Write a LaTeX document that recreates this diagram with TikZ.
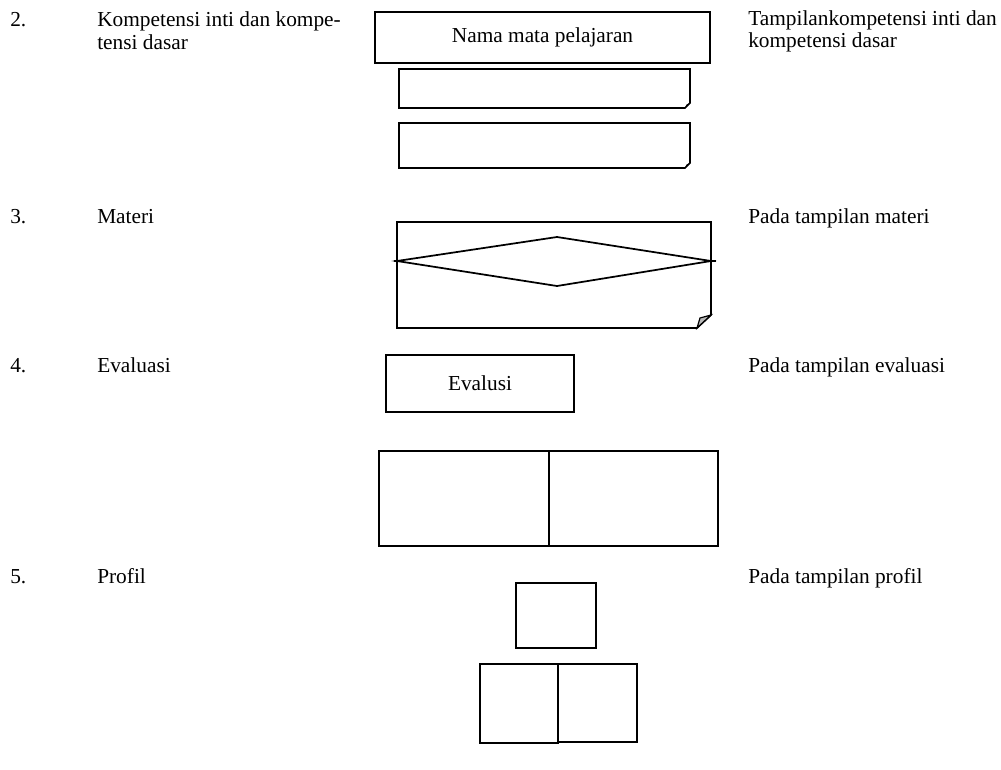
\documentclass[tikz,border=0pt]{standalone}
\usepackage{fontspec}
\setmainfont{Liberation Serif}
\usetikzlibrary{fit}
\begin{document}
\begin{tikzpicture}[x=0.75pt,y=-0.75pt,
  every node/.style={font=\fontsize{16}{17}\selectfont},
  lbl/.style={anchor=base west,inner sep=0pt},
  mlbl/.style={anchor=north west,inner sep=0pt,align=left},
  box/.style={draw,line width=1.3pt,inner sep=0pt},
  shp/.style={draw,line width=1.3pt,line join=miter}]
\useasboundingbox (0,0) rectangle (1001,769);
% left column
\node[lbl] (n2) at (10,26) {2.};
\node[mlbl] (t2) at (97,11.5) {Kompetensi inti dan kompe-\\tensi dasar};
\node[lbl] (n3) at (10,223) {3.};
\node[lbl] (t3) at (97,223) {Materi};
\node[lbl] (n4) at (10,372) {4.};
\node[lbl] (t4) at (97,372) {Evaluasi};
\node[lbl] (n5) at (10,583) {5.};
\node[lbl] (t5) at (97,583) {Profil};
% right column
\node[mlbl] (r2) at (748,10) {Tampilankompetensi inti dan\\kompetensi dasar};
\node[lbl] (r3) at (748,223) {Pada tampilan materi};
\node[lbl] (r4) at (748,372) {Pada tampilan evaluasi};
\node[lbl] (r5) at (748,583) {Pada tampilan profil};
% section 2 boxes
\node[box,minimum width=251.25pt,minimum height=38.25pt] (nama) at (542.5,37.5) {Nama mata pelajaran};
\draw[shp] (399,69) -- (690,69) -- (690,103) -- (685,108) -- (399,108) -- cycle;
\fill (685,108) -- (686.5,104.5) -- (690,103) -- cycle;
\draw[shp] (399,123) -- (690,123) -- (690,163) -- (685,168) -- (399,168) -- cycle;
\fill (685,168) -- (686.5,164.5) -- (690,163) -- cycle;
% section 3 materi
\draw[shp] (397,222) -- (711,222) -- (711,315) -- (697,328) -- (397,328) -- cycle;
\filldraw[fill=gray!55,line width=0.9pt] (697,328) -- (700,318) -- (711,315) -- cycle;
\draw[shp] (397,261) -- (557,237) -- (711,261) -- (557,286) -- cycle;
\draw[line width=1pt] (394,261) -- (402,261) (706,261) -- (716,261);
% section 4 evaluasi
\node[box,minimum width=141pt,minimum height=42.75pt] (eval) at (480,383.5) {Evalusi};
\coordinate (c1) at (379,451); \coordinate (c2) at (549,546);
\node[box,fit=(c1)(c2)] (evl) {};
\coordinate (d1) at (549,451); \coordinate (d2) at (718,546);
\node[box,fit=(d1)(d2)] (evr) {};
% section 5 profil
\coordinate (e1) at (516,583); \coordinate (e2) at (596,648);
\node[box,fit=(e1)(e2)] (pf) {};
\coordinate (f1) at (480,664); \coordinate (f2) at (558,743);
\node[box,fit=(f1)(f2)] (pfl) {};
\coordinate (g1) at (558,664); \coordinate (g2) at (637,742);
\node[box,fit=(g1)(g2)] (pfr) {};
\end{tikzpicture}
\end{document}
